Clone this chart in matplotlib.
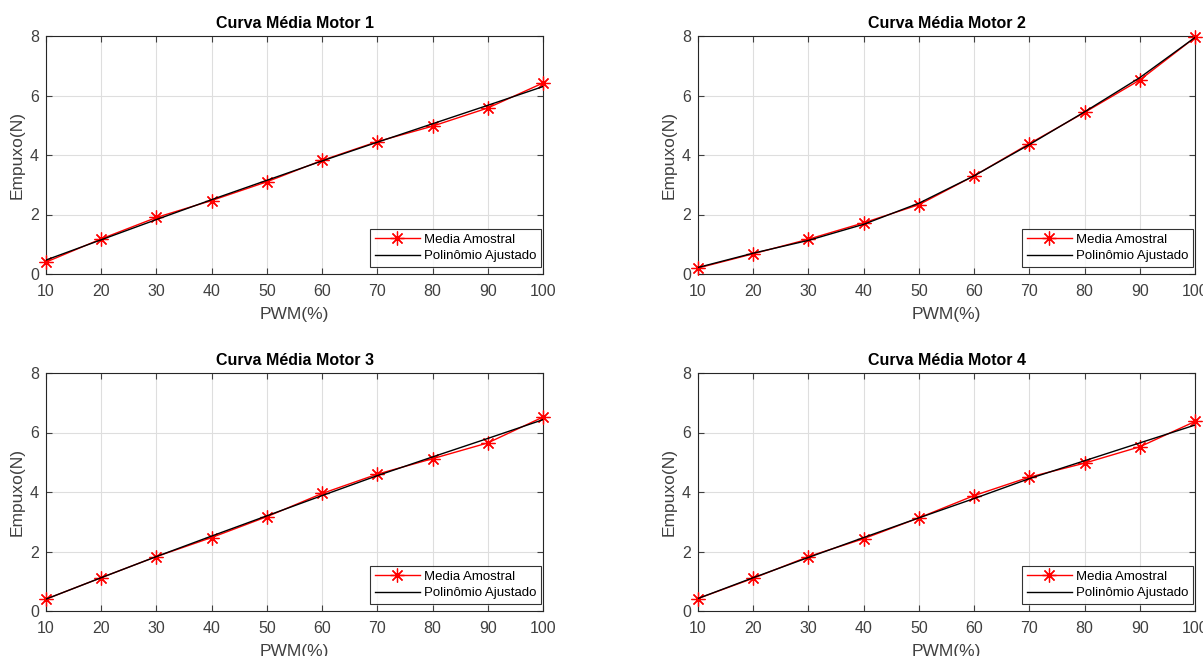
import matplotlib
matplotlib.use("Agg")
import matplotlib.pyplot as plt
import numpy as np

pwm = [10, 20, 30, 40, 50, 60, 70, 80, 90, 100]

motor1_media = [0.40, 1.18, 1.90, 2.47, 3.10, 3.82, 4.45, 4.97, 5.58, 6.42]
motor1_fit = [0.47, 1.15, 1.83, 2.50, 3.15, 3.80, 4.43, 5.05, 5.67, 6.30]

motor2_media = [0.20, 0.68, 1.17, 1.72, 2.33, 3.30, 4.38, 5.43, 6.52, 7.95]
motor2_fit = [0.22, 0.70, 1.13, 1.67, 2.38, 3.30, 4.35, 5.45, 6.60, 7.95]

motor3_media = [0.40, 1.12, 1.83, 2.47, 3.17, 3.95, 4.60, 5.12, 5.65, 6.52]
motor3_fit = [0.40, 1.12, 1.83, 2.52, 3.20, 3.88, 4.55, 5.18, 5.80, 6.43]

motor4_media = [0.42, 1.10, 1.83, 2.43, 3.13, 3.88, 4.50, 4.97, 5.52, 6.37]
motor4_fit = [0.42, 1.12, 1.80, 2.47, 3.13, 3.78, 4.45, 5.05, 5.65, 6.25]

titles = ["Curva Média Motor 1", "Curva Média Motor 2",
          "Curva Média Motor 3", "Curva Média Motor 4"]
xticks = [10, 20, 30, 40, 50, 60, 70, 80, 90, 100]
yticks = [0, 2, 4, 6, 8]
xlabel = "PWM(%)"
ylabel = "Empuxo(N)"
legend_labels = ["Media Amostral", "Polinômio Ajustado"]

medias = [motor1_media, motor2_media, motor3_media, motor4_media]
fits = [motor1_fit, motor2_fit, motor3_fit, motor4_fit]

plt.rcParams['font.family'] = ['Liberation Sans', 'DejaVu Sans']

fig = plt.figure(figsize=(12.03, 6.56), dpi=100)
W, H = 1203, 656
boxes = [(46, 36), (698, 36), (46, 373), (698, 373)]
aw, ah = 497, 238

tick_color = '#404040'
asterisk = (8, 2, 0)
for i, (lx, ty) in enumerate(boxes):
    ax = fig.add_axes([lx / W, 1 - (ty + ah) / H, aw / W, ah / H])
    ax.plot(pwm, medias[i], color='red', marker=asterisk, markersize=10,
            markeredgewidth=0.9, linewidth=1.0, label=legend_labels[0],
            zorder=3, clip_on=False)
    ax.plot(pwm, fits[i], color='black', linewidth=1.0,
            label=legend_labels[1], zorder=4)
    ax.set_xlim(10, 100)
    ax.set_ylim(0, 8)
    ax.set_xticks(xticks)
    ax.set_yticks(yticks)
    ax.grid(True, color='#dedede', linewidth=0.8)
    ax.set_axisbelow(True)
    ax.tick_params(direction='in', top=True, right=True, length=4,
                   labelsize=11.5, colors=tick_color, labelcolor=tick_color)
    ax.tick_params(axis='x', pad=7)
    ax.tick_params(axis='y', pad=5)
    for s in ax.spines.values():
        s.set_color('#262626')
        s.set_linewidth(0.8)
    ax.set_title(titles[i], fontsize=11.5, fontweight='bold', pad=6)
    ax.set_xlabel(xlabel, fontsize=12.5, color=tick_color, labelpad=6)
    ax.set_ylabel(ylabel, fontsize=12.5, color=tick_color, labelpad=4)
    leg = ax.legend(loc='lower right', bbox_to_anchor=(0.995, 0.03),
                    fontsize=9.5, frameon=True, fancybox=False,
                    handlelength=3.4, borderpad=0.35, labelspacing=0.3,
                    handletextpad=0.3, borderaxespad=0.0)
    leg.get_frame().set_edgecolor('black')
    leg.get_frame().set_linewidth(0.8)

fig.savefig("out.png", dpi=100, facecolor='white')
